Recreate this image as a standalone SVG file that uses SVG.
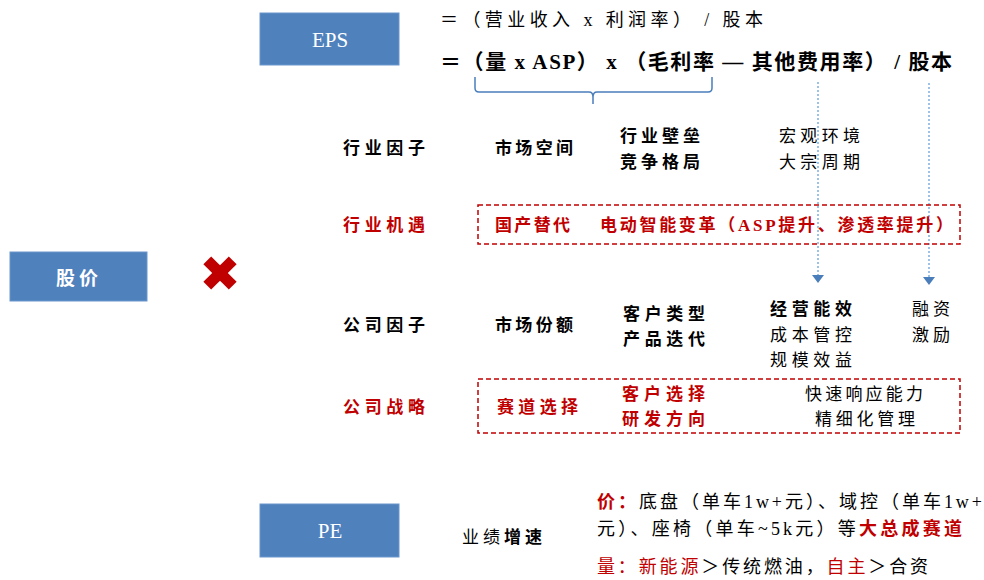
<svg xmlns="http://www.w3.org/2000/svg" width="984" height="580" viewBox="0 0 984 580">
<style>
  text { font-family: "Liberation Serif", "Noto Sans CJK SC", serif; font-size: 17px; fill: #000; }
  .b { font-weight: bold; }
  .r { fill: #c00000; }
  .w { fill: #fff; }
  .box { fill: #4f81bd; stroke: #6a96cc; stroke-width: 1; }
  .dash { fill: none; stroke: #c00000; stroke-width: 1.5; stroke-dasharray: 5 3; }
  .dot { stroke: #5b9bd5; stroke-width: 1.2; stroke-dasharray: 2 2; fill: none; }
  .p { font-size: 18px; }
</style>
<defs>
  <marker id="ah" viewBox="0 0 8 12" refX="0" refY="6" markerWidth="8" markerHeight="12" markerUnits="userSpaceOnUse" orient="auto">
    <path d="M0,0 L8,6 L0,12 z" fill="#4a7ebb"/>
  </marker>
</defs>
<rect width="984" height="580" fill="#fff"/>

<g id="eps">
  <rect class="box" x="260" y="13" width="139" height="52"/>
  <text class="w" x="330" y="47" text-anchor="middle" style="font-size:21px">EPS</text>
</g>
<g id="formula1">
  <text x="440" y="26" textLength="323" style="font-size:18px">＝（营业收入 x 利润率） / 股本</text>
</g>
<g id="formula2">
  <text class="b" x="440" y="69" textLength="512" style="font-size:21px">＝（量 x ASP） x （毛利率 — 其他费用率） / 股本</text>
</g>

<g id="price">
  <rect class="box" x="10" y="252" width="137" height="49"/>
  <text class="w b" x="79" y="285" text-anchor="middle" style="font-size:19px" letter-spacing="4">股价</text>
</g>
<g id="times">
  <g transform="translate(220,273)" fill="#c00000">
    <rect x="-18" y="-5.5" width="36" height="11" transform="rotate(45)"/>
    <rect x="-18" y="-5.5" width="36" height="11" transform="rotate(-45)"/>
  </g>
</g>
<g id="pe">
  <rect class="box" x="260" y="504" width="139" height="53"/>
  <text class="w" x="330" y="538" text-anchor="middle" style="font-size:21px">PE</text>
</g>

<g id="connectors">
  <path d="M475 77 V88 Q475 92 479 92 H589 Q593 92 593 97 V104 M593 97 Q593 92 597 92 H708 Q712 92 712 88 V77" fill="none" stroke="#4a7ebb" stroke-width="1.5"/>
  <line class="dot" x1="818" y1="82" x2="818" y2="275" marker-end="url(#ah)"/>
  <line class="dot" x1="929" y1="83" x2="929" y2="277" marker-end="url(#ah)"/>
</g>

<g id="industry-factor">
  <text class="b" x="343" y="154" textLength="82">行业因子</text>
  <text class="b" x="495" y="154" textLength="78">市场空间</text>
  <text class="b" x="620" y="142" textLength="80">行业壁垒</text>
  <text class="b" x="620" y="168" textLength="80">竞争格局</text>
  <text x="779" y="142" textLength="81">宏观环境</text>
  <text x="779" y="168" textLength="81">大宗周期</text>
</g>

<g id="industry-opportunity">
  <text class="b r" x="343" y="231" textLength="82">行业机遇</text>
  <rect class="dash" x="478" y="205" width="482" height="39"/>
  <text class="b r" x="495" y="231" textLength="75">国产替代</text>
  <text class="b r" x="600" y="231" textLength="353">电动智能变革（ASP提升、渗透率提升）</text>
</g>

<g id="company-factor">
  <text class="b" x="343" y="331" textLength="82">公司因子</text>
  <text class="b" x="495" y="331" textLength="78">市场份额</text>
  <text class="b" x="623" y="320" textLength="82">客户类型</text>
  <text class="b" x="623" y="345" textLength="82">产品迭代</text>
  <text class="b" x="770" y="315" textLength="82">经营能效</text>
  <text x="770" y="341" textLength="82">成本管控</text>
  <text x="770" y="366" textLength="82">规模效益</text>
  <text x="912" y="315" textLength="38">融资</text>
  <text x="912" y="341" textLength="38">激励</text>
</g>

<g id="company-strategy">
  <text class="b r" x="343" y="413" textLength="82">公司战略</text>
  <rect class="dash" x="478" y="379" width="482" height="54"/>
  <text class="b r" x="497" y="413" textLength="81">赛道选择</text>
  <text class="b r" x="622" y="400" textLength="83">客户选择</text>
  <text class="b r" x="622" y="425" textLength="83">研发方向</text>
  <text x="805" y="400" textLength="118">快速响应能力</text>
  <text x="815" y="425" textLength="100">精细化管理</text>
</g>

<g id="growth">
  <text x="462" y="543" textLength="80">业绩<tspan class="b">增速</tspan></text>
  <text class="p" x="597" y="508" textLength="385"><tspan class="b r">价：</tspan>底盘（单车1w+元）、域控（单车1w+</text>
  <text class="p" x="597" y="535" textLength="365">元）、座椅（单车~5k元）等<tspan class="b r">大总成赛道</tspan></text>
  <text class="p" x="597" y="573" textLength="331"><tspan class="r">量：新能源</tspan>＞传统燃油，<tspan class="r">自主</tspan>＞合资</text>
</g>
</svg>
